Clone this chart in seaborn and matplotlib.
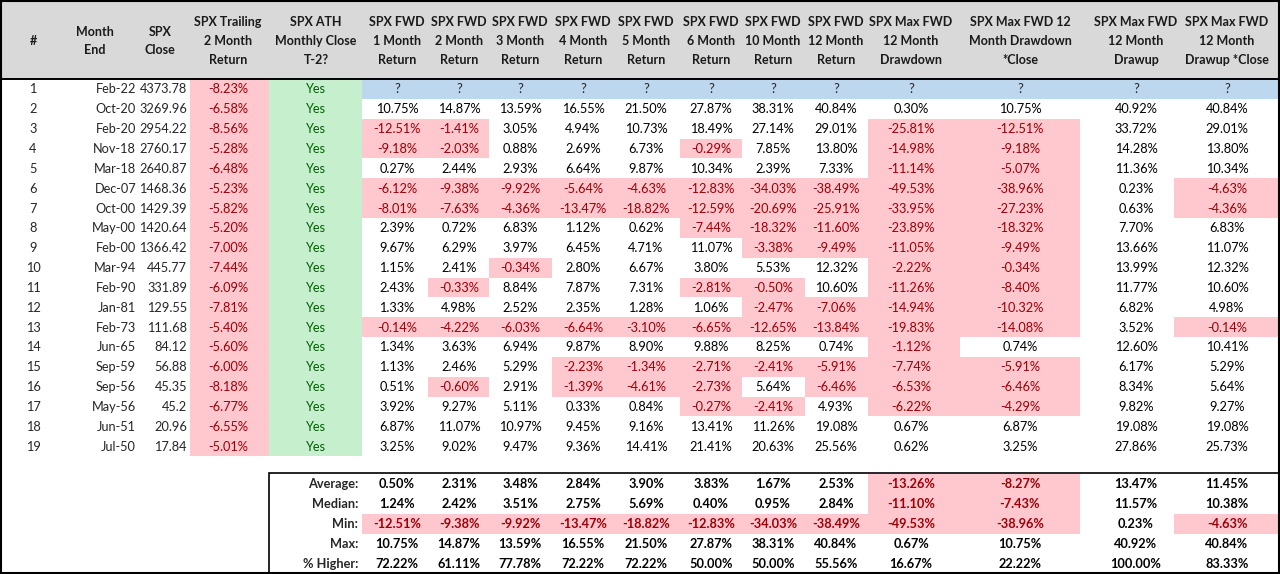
import numpy as np
import pandas as pd
import matplotlib.pyplot as plt
from matplotlib.patches import Rectangle
import seaborn as sns

sns.set_theme(style="white")
plt.rcParams["font.family"] = ["Lato", "DejaVu Sans"]

row_ids = list(range(1, 20))
month_end = ["Feb-22", "Oct-20", "Feb-20", "Nov-18", "Mar-18", "Dec-07", "Oct-00", "May-00", "Feb-00",
             "Mar-94", "Feb-90", "Jan-81", "Feb-73", "Jun-65", "Sep-59", "Sep-56", "May-56", "Jun-51", "Jul-50"]
spx_close = ["4373.78", "3269.96", "2954.22", "2760.17", "2640.87", "1468.36", "1429.39", "1420.64", "1366.42",
             "445.77", "331.89", "129.55", "111.68", "84.12", "56.88", "45.35", "45.2", "20.96", "17.84"]
trailing_2m = [-8.23, -6.58, -8.56, -5.28, -6.48, -5.23, -5.82, -5.20, -7.00, -7.44,
               -6.09, -7.81, -5.40, -5.60, -6.00, -8.18, -6.77, -6.55, -5.01]
ath_close = ["Yes"] * 19

fwd_1m = [None, 10.75, -12.51, -9.18, 0.27, -6.12, -8.01, 2.39, 9.67, 1.15, 2.43, 1.33, -0.14, 1.34, 1.13, 0.51, 3.92, 6.87, 3.25]
fwd_2m = [None, 14.87, -1.41, -2.03, 2.44, -9.38, -7.63, 0.72, 6.29, 2.41, -0.33, 4.98, -4.22, 3.63, 2.46, -0.60, 9.27, 11.07, 9.02]
fwd_3m = [None, 13.59, 3.05, 0.88, 2.93, -9.92, -4.36, 6.83, 3.97, -0.34, 8.84, 2.52, -6.03, 6.94, 5.29, 2.91, 5.11, 10.97, 9.47]
fwd_4m = [None, 16.55, 4.94, 2.69, 6.64, -5.64, -13.47, 1.12, 6.45, 2.80, 7.87, 2.35, -6.64, 9.87, -2.23, -1.39, 0.33, 9.45, 9.36]
fwd_5m = [None, 21.50, 10.73, 6.73, 9.87, -4.63, -18.82, 0.62, 4.71, 6.67, 7.31, 1.28, -3.10, 8.90, -1.34, -4.61, 0.84, 9.16, 14.41]
fwd_6m = [None, 27.87, 18.49, -0.29, 10.34, -12.83, -12.59, -7.44, 11.07, 3.80, -2.81, 1.06, -6.65, 9.88, -2.71, -2.73, -0.27, 13.41, 21.41]
fwd_10m = [None, 38.31, 27.14, 7.85, 2.39, -34.03, -20.69, -18.32, -3.38, 5.53, -0.50, -2.47, -12.65, 8.25, -2.41, 5.64, -2.41, 11.26, 20.63]
fwd_12m = [None, 40.84, 29.01, 13.80, 7.33, -38.49, -25.91, -11.60, -9.49, 12.32, 10.60, -7.06, -13.84, 0.74, -5.91, -6.46, 4.93, 19.08, 25.56]
max_dd = [None, 0.30, -25.81, -14.98, -11.14, -49.53, -33.95, -23.89, -11.05, -2.22, -11.26, -14.94, -19.83, -1.12, -7.74, -6.53, -6.22, 0.67, 0.62]
max_dd_close = [None, 10.75, -12.51, -9.18, -5.07, -38.96, -27.23, -18.32, -9.49, -0.34, -8.40, -10.32, -14.08, 0.74, -5.91, -6.46, -4.29, 6.87, 3.25]
max_du = [None, 40.92, 33.72, 14.28, 11.36, 0.23, 0.63, 7.70, 13.66, 13.99, 11.77, 6.82, 3.52, 12.60, 6.17, 8.34, 9.82, 19.08, 27.86]
max_du_close = [None, 40.84, 29.01, 13.80, 10.34, -4.63, -4.36, 6.83, 11.07, 12.32, 10.60, 4.98, -0.14, 10.41, 5.29, 5.64, 9.27, 19.08, 25.73]

summary_labels = ["Average:", "Median:", "Min:", "Max:", "% Higher:"]
summary_avg = [0.50, 2.31, 3.48, 2.84, 3.90, 3.83, 1.67, 2.53, -13.26, -8.27, 13.47, 11.45]
summary_median = [1.24, 2.42, 3.51, 2.75, 5.69, 0.40, 0.95, 2.84, -11.10, -7.43, 11.57, 10.38]
summary_min = [-12.51, -9.38, -9.92, -13.47, -18.82, -12.83, -34.03, -38.49, -49.53, -38.96, 0.23, -4.63]
summary_max = [10.75, 14.87, 13.59, 16.55, 21.50, 27.87, 38.31, 40.84, 0.67, 10.75, 40.92, 40.84]
summary_higher = [72.22, 61.11, 77.78, 72.22, 72.22, 50.00, 50.00, 55.56, 16.67, 22.22, 100.00, 83.33]

headers = ["#", "Month\nEnd", "SPX\nClose", "SPX Trailing\n2 Month\nReturn", "SPX ATH\nMonthly Close\nT-2?",
           "SPX FWD\n1 Month\nReturn", "SPX FWD\n2 Month\nReturn", "SPX FWD\n3 Month\nReturn",
           "SPX FWD\n4 Month\nReturn", "SPX FWD\n5 Month\nReturn", "SPX FWD\n6 Month\nReturn",
           "SPX FWD\n10 Month\nReturn", "SPX FWD\n12 Month\nReturn", "SPX Max FWD\n12 Month\nDrawdown",
           "SPX Max FWD 12\nMonth Drawdown\n*Close", "SPX Max FWD\n12 Month\nDrawup",
           "SPX Max FWD\n12 Month\nDrawup *Close"]

fwd_cols = [fwd_1m, fwd_2m, fwd_3m, fwd_4m, fwd_5m, fwd_6m, fwd_10m, fwd_12m,
            max_dd, max_dd_close, max_du, max_du_close]
summary_rows = [summary_avg, summary_median, summary_min, summary_max, summary_higher]

# ---- layout (pixel-like units) ----
W, H = 1280, 574
col_edges = [0, 70, 140, 190, 269, 362, 428, 489, 552, 614, 680, 742, 805, 868, 960, 1080, 1174, 1279]
text_x = [33, 95, 160, 228, 316, 397, 459, 520, 583, 646, 711, 773, 836, 911, 1020, 1136, 1227]
header_bottom = 79
row_h = 19.85
sum_top = 473
sum_h = 20.0
sum_left = 269
sum_label_x = 358

PINK, RED = "#ffc7ce", "#9c0006"
GREEN_BG, GREEN_TX = "#c6efce", "#006100"
BLUE = "#bdd7ee"
GRAY = "#d9d9d9"
FS = 9.2
HFS = 9.0

fig = plt.figure(figsize=(W / 100, H / 100), dpi=100)
ax = fig.add_axes([0, 0, 1, 1])
ax.set_xlim(0, W)
ax.set_ylim(H, 0)
ax.axis("off")


def cell(x0, x1, y0, y1, color):
    ax.add_patch(Rectangle((x0, y0), x1 - x0, y1 - y0, facecolor=color, edgecolor="none", zorder=1))


def pct(v):
    return f"{v:.2f}%"


# header
cell(0, W, 0, header_bottom, GRAY)
for j, h in enumerate(headers):
    ax.text(text_x[j], 41, h, ha="center", va="center", fontsize=HFS, fontweight="bold",
            linespacing=1.7, color="#1a1a1a", zorder=3)
ax.plot([0, W], [header_bottom, header_bottom], color="black", lw=1.4, zorder=4)

# body rows
for i in range(len(row_ids)):
    y0 = header_bottom + i * row_h
    y1 = y0 + row_h
    yc = (y0 + y1) / 2 + 0.5
    ax.text(text_x[0], yc, str(row_ids[i]), ha="center", va="center", fontsize=FS, zorder=3)
    ax.text(col_edges[2] - 4, yc, month_end[i], ha="right", va="center", fontsize=FS, zorder=3)
    ax.text(col_edges[3] - 3, yc, spx_close[i], ha="right", va="center", fontsize=FS, zorder=3)
    v = trailing_2m[i]
    neg = v < 0
    if neg:
        cell(col_edges[3], col_edges[4], y0, y1, PINK)
    ax.text(text_x[3], yc, pct(v), ha="center", va="center", fontsize=FS,
            color=RED if neg else "black", zorder=3)
    cell(col_edges[4], col_edges[5], y0, y1, GREEN_BG)
    ax.text(text_x[4], yc, ath_close[i], ha="center", va="center", fontsize=FS, color=GREEN_TX, zorder=3)
    for k, col in enumerate(fwd_cols):
        j = 5 + k
        v = col[i]
        if v is None:
            cell(col_edges[j], col_edges[j + 1], y0, y1, BLUE)
            ax.text(text_x[j], yc, "?", ha="center", va="center", fontsize=FS, zorder=3)
            continue
        neg = v < 0
        if neg:
            cell(col_edges[j], col_edges[j + 1], y0, y1, PINK)
        ax.text(text_x[j], yc, pct(v), ha="center", va="center", fontsize=FS,
                color=RED if neg else "black", zorder=3)

# summary block
for r, (lab, vals) in enumerate(zip(summary_labels, summary_rows)):
    y0 = sum_top + 1 + r * sum_h
    y1 = y0 + sum_h
    yc = (y0 + y1) / 2 + 0.5
    ax.text(sum_label_x, yc, lab, ha="right", va="center", fontsize=FS, fontweight="bold", zorder=3)
    for k, v in enumerate(vals):
        j = 5 + k
        neg = v < 0
        if neg:
            cell(col_edges[j], col_edges[j + 1], y0, y1, PINK)
        ax.text(text_x[j], yc, pct(v), ha="center", va="center", fontsize=FS, fontweight="bold",
                color=RED if neg else "black", zorder=3)

ax.add_patch(Rectangle((sum_left, sum_top), W - 1 - sum_left, H - 1.5 - sum_top, facecolor="none",
                       edgecolor="black", lw=1.2, zorder=4))
ax.add_patch(Rectangle((0.8, 0.8), W - 2.2, H - 2.2, facecolor="none", edgecolor="black", lw=1.5, zorder=5))

fig.savefig("out.png", dpi=100)
